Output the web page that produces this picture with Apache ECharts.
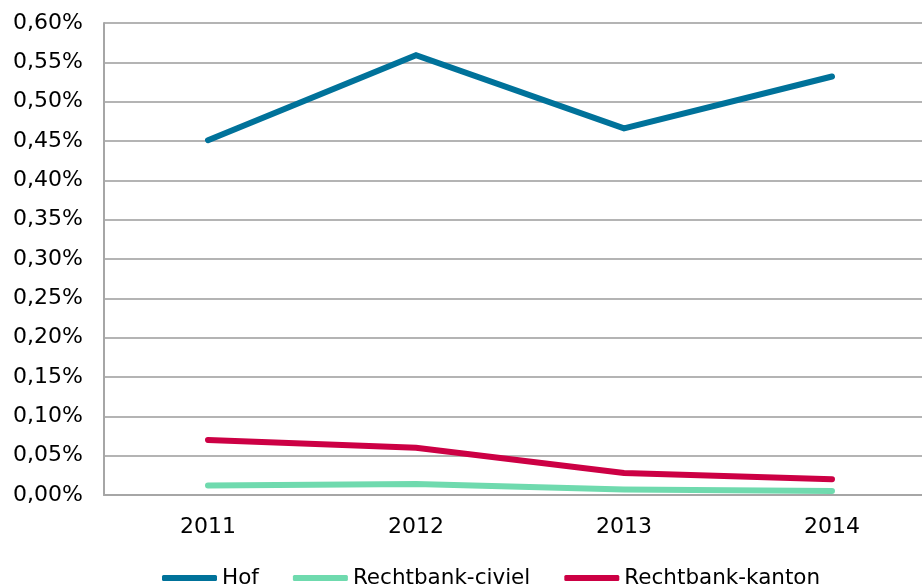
<!DOCTYPE html>
<html>
<head>
<meta charset="utf-8">
<script src="https://cdn.jsdelivr.net/npm/echarts@6/dist/echarts.min.js"></script>
<style>
  html, body { margin: 0; padding: 0; background: #fff; }
  #chart { width: 922px; height: 587px; }
</style>
</head>
<body>
<div id="chart"></div>
<script>
// Jaren en aandeel (in procenten) per rechtsgang
const years = ['2011', '2012', '2013', '2014'];
const hof = [0.451, 0.559, 0.466, 0.532];
const rechtbankCiviel = [0.012, 0.014, 0.007, 0.005];
const rechtbankKanton = [0.070, 0.060, 0.028, 0.020];
const seriesNames = ['Hof', 'Rechtbank-civiel', 'Rechtbank-kanton'];
const seriesColors = ['#00729a', '#6fdaae', '#cc0044'];

const font = 'DejaVu Sans';
const pct = v => v.toFixed(2).replace('.', ',') + '%';

const chart = echarts.init(document.getElementById('chart'));
const values = [hof, rechtbankCiviel, rechtbankKanton];

chart.setOption({
  animation: false,
  grid: {
    left: 104, top: 23, width: 832, height: 472,
    containLabel: false, outerBoundsMode: 'none'
  },
  legend: {
    top: 562,
    left: 157,
    itemWidth: 55,
    itemHeight: 6,
    itemGap: 34,
    icon: 'roundRect',
    textStyle: { fontFamily: font, fontSize: 21.5, color: '#000' },
    data: seriesNames
  },
  xAxis: {
    type: 'category',
    data: years,
    boundaryGap: true,
    axisLine: { lineStyle: { color: '#a6a6a6', width: 2 } },
    axisTick: { show: false },
    axisLabel: { fontFamily: font, fontSize: 22, color: '#000', margin: 21 }
  },
  yAxis: {
    type: 'value',
    min: 0,
    max: 0.6,
    interval: 0.05,
    axisLine: { show: true, lineStyle: { color: '#a6a6a6', width: 2 } },
    axisTick: { show: false },
    splitLine: { lineStyle: { color: '#b4b4b4', width: 2 } },
    axisLabel: { fontFamily: font, fontSize: 22, color: '#000', margin: 21, formatter: pct }
  },
  series: seriesNames.map((name, i) => ({
    name,
    type: 'line',
    data: values[i],
    symbol: 'none',
    color: seriesColors[i],
    lineStyle: { width: 6, color: seriesColors[i], cap: 'round', join: 'miter' },
    z: 3
  }))
});
</script>
</body>
</html>
